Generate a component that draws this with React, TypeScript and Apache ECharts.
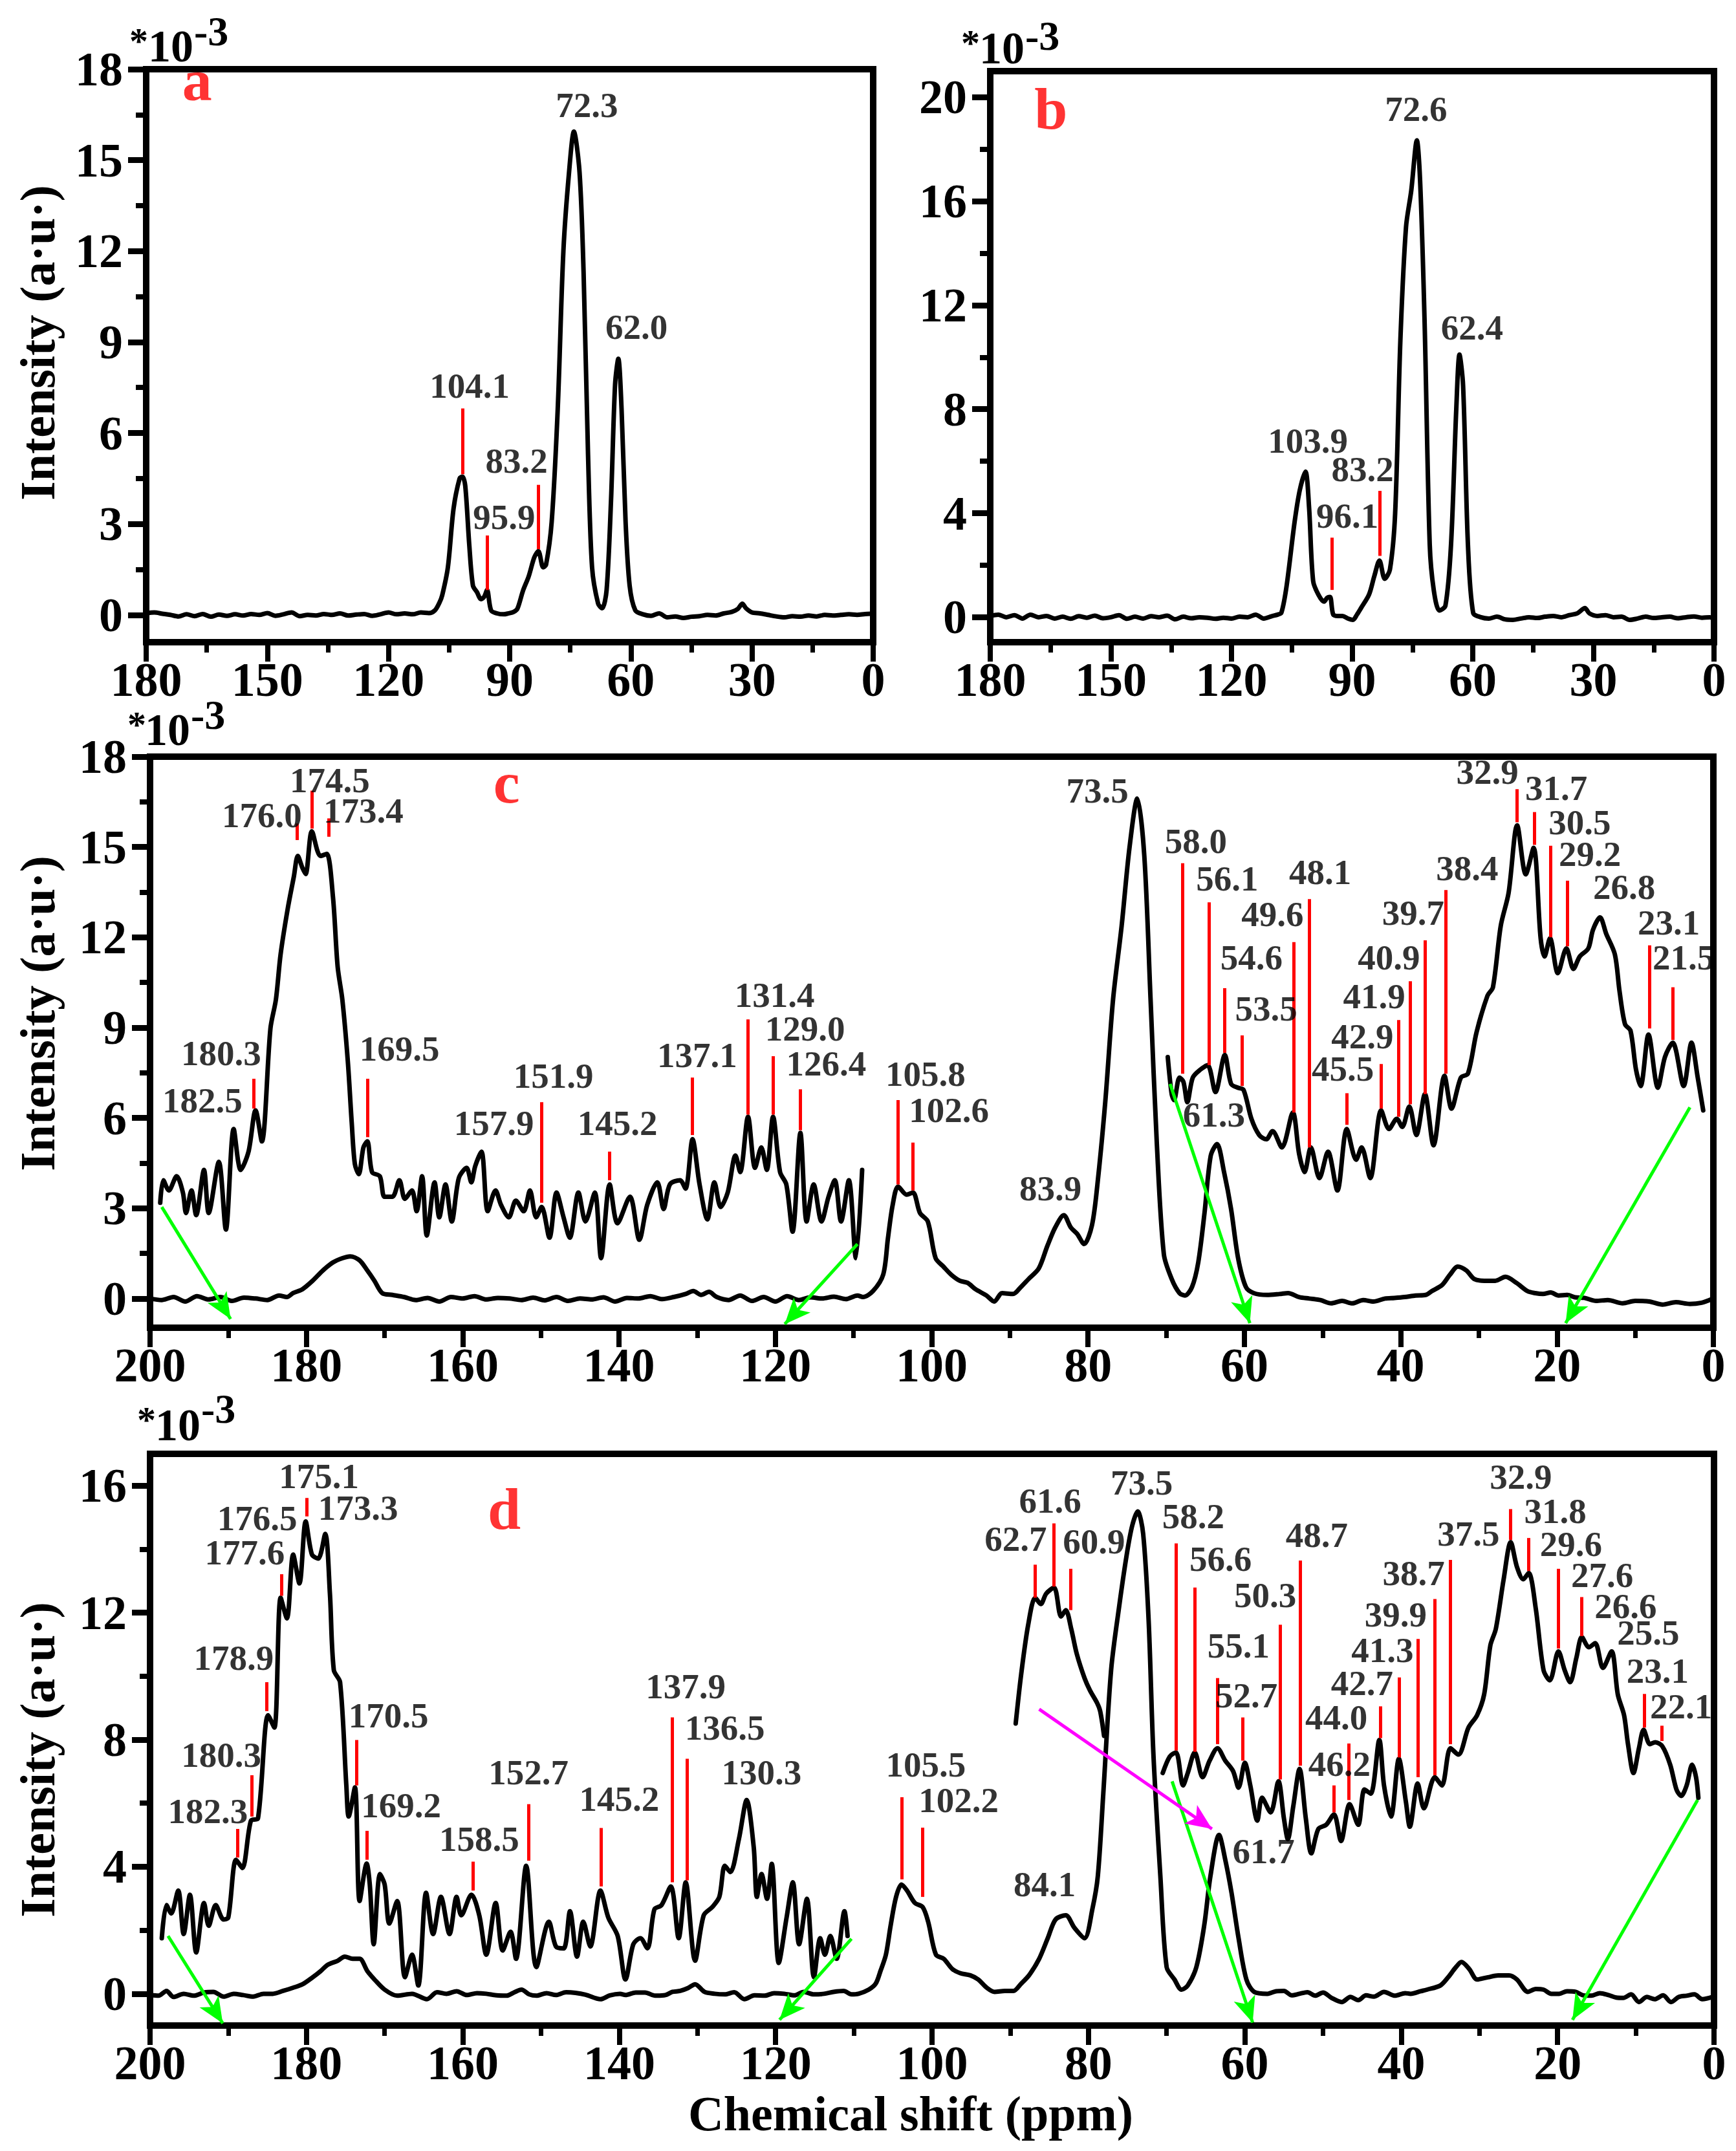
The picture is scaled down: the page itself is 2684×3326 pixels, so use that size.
import React, { useEffect, useRef } from "react";
import * as echarts from "echarts";

type P = [number, number];
type Red = [number, number, number];
type Lab = [string, number, number];
type Arr = [number, number, number, number];

// ---------------- Panel a ----------------
const specA: P[] = [[180,0.05],[178,0.08],[176,0.04],[174,0.0],[172,-0.05],[170,0.02],[168,-0.04],[166,0.03],[164,-0.06],[162,0.01],[160,-0.03],[158,0.02],[156,-0.02],[154,0.03],[152,0.0],[150,0.06],[148,-0.03],[146,0.02],[144,0.08],[142,-0.04],[140,0.0],[138,-0.02],[136,0.03],[134,0.0],[132,0.05],[130,-0.02],[128,0.01],[126,0.03],[124,-0.03],[122,0.02],[120,0.08],[118,0.02],[116,0.05],[114,0.02],[112,0.08],[110,0.06],[108.5,0.15],[107.4,0.4],[106.7,0.65],[105.3,1.57],[103.9,3.5],[102.4,4.5],[101.7,4.56],[101,4.26],[100,2.3],[99.1,0.97],[98.1,0.75],[97.1,0.52],[96.3,0.6],[95.6,0.82],[94.6,0.15],[93.1,0.05],[91.5,0.02],[90.3,0.05],[89,0.1],[88.1,0.2],[86.7,0.8],[85.3,1.27],[83.9,1.9],[82.9,2.1],[81.7,1.57],[81,1.65],[79.6,3.07],[78.1,6.8],[76.7,12.0],[75.3,14.6],[74.1,15.94],[72.7,14.6],[71.7,11.3],[70.6,5.3],[69.6,1.57],[68.1,0.37],[67.1,0.22],[66,0.82],[64.9,3.8],[63.9,7.6],[63.1,8.45],[62.3,6.8],[61.3,3.07],[60.3,0.97],[58.9,0.15],[57,0.02],[55,-0.03],[53,0.05],[51,-0.08],[49,-0.05],[47,-0.1],[45,-0.06],[43,-0.04],[41,0.0],[39,-0.02],[37,0.05],[35,0.1],[33.5,0.2],[32.4,0.37],[31.5,0.22],[30,0.08],[28,0.05],[26,0.0],[24,-0.05],[22,-0.08],[20,-0.04],[18,-0.06],[16,-0.02],[14,-0.05],[12,0.0],[10,-0.02],[8,0.0],[6,0.02],[4,0.0],[2,0.03],[0.5,0.04]];
const redA: Red[] = [[101.7,6.81,4.64],[95.6,2.62,0.82],[82.9,4.29,2.17]];
const labelsA: Lab[] = [["104.1",99.9,7.56],["95.9",91.4,3.22],["83.2",88.3,5.09],["72.3",70.9,16.82],["62.0",58.6,9.49]];
const letterA: Lab = ["a",167.4,17.64];
const yTicksA = [0,3,6,9,12,15,18];
const yMinorA = [1.5,4.5,7.5,10.5,13.5,16.5];

// ---------------- Panel b ----------------
const specB: P[] = [[180,0.05],[178,0.1],[176,0.0],[174,0.08],[172,-0.05],[170,0.1],[168,0.0],[166,0.05],[164,-0.05],[162,0.02],[160,-0.06],[158,0.04],[156,-0.02],[154,0.06],[152,-0.04],[150,0.0],[148,0.08],[146,-0.06],[144,0.02],[142,-0.05],[140,0.04],[138,0.0],[136,0.06],[134,-0.08],[132,0.02],[130,-0.04],[128,0.0],[126,-0.02],[124,-0.06],[122,-0.02],[120,-0.05],[118,0.02],[116,0.0],[114,0.1],[112,-0.05],[110,0.04],[108.5,0.1],[107.6,0.17],[106.3,1.2],[104.3,3.67],[103,4.9],[101.6,5.6],[100.7,4.2],[99.7,1.4],[98.4,0.87],[97,0.6],[96.2,0.75],[95.5,0.78],[94.7,0.1],[93.5,0.05],[92.4,0.05],[91,-0.05],[89.8,-0.1],[88.8,0.1],[87.8,0.35],[85.8,0.87],[84.5,1.57],[83.2,2.18],[81.9,1.48],[80.6,1.83],[79.3,4.0],[78,10.65],[76.6,15.0],[75.3,16.4],[73.9,18.34],[73.1,16.8],[72,11.5],[70.7,2.8],[69.7,1.05],[68.3,0.26],[66.8,0.44],[65.4,2.8],[64.1,8.0],[63.3,10.1],[62.4,8.9],[61.2,2.8],[59.9,0.17],[58,0.0],[56,-0.05],[54,0.02],[52,-0.08],[50,-0.1],[48,-0.05],[46,0.0],[44,-0.03],[42,0.02],[40,0.05],[38,0.0],[36,0.08],[34,0.15],[32.1,0.35],[31,0.15],[29,0.05],[27,0.08],[25,0.0],[23,0.02],[21,-0.1],[19,-0.05],[17,0.02],[15,-0.03],[13,0.0],[11,0.02],[9,-0.04],[7,0.0],[5,0.03],[3,-0.02],[1,0.0],[0.3,-0.05]];
const redB: Red[] = [[95.1,3.06,1.05],[83.2,4.86,2.36]];
const labelsB: Lab[] = [["103.9",101.0,6.79],["96.1",91.2,3.9],["83.2",87.4,5.69],["72.6",74.1,19.55],["62.4",60.2,11.13]];
const letterB: Lab = ["b",164.9,19.55];
const yTicksB = [0,4,8,12,16,20];
const yMinorB = [2,6,10,14,18];

// ---------------- Panel c ----------------
const specC: P[] = [[200,0.0],[198.5,-0.05],[197,0.05],[195.5,-0.1],[194,0.08],[192.5,-0.03],[191,0.05],[189.5,-0.08],[188,0.03],[186.5,0.0],[185,-0.05],[183.5,0.1],[182.5,0.05],[181.7,0.18],[180.5,0.31],[179.2,0.59],[177.9,0.93],[176.6,1.2],[175.4,1.34],[174.4,1.4],[173.2,1.27],[172.2,0.93],[171.3,0.59],[170.3,0.18],[169,0.12],[167.5,0.05],[166,-0.05],[164.5,0.02],[163,-0.1],[161.5,0.05],[160,0.0],[158.5,0.08],[157,-0.03],[155.5,0.02],[154,0.0],[152.5,-0.05],[151,0.03],[149.5,-0.06],[148,0.05],[146.5,-0.08],[145,0.0],[143.5,-0.03],[142,0.04],[140.5,-0.1],[139,0.02],[137.5,0.0],[136,0.08],[134.5,-0.02],[133,0.05],[131.5,0.15],[130.5,0.25],[129.5,0.12],[128.5,0.22],[127.5,0.05],[126,-0.05],[124.5,0.1],[123,-0.08],[121.5,0.05],[120,-0.1],[118.5,0.08],[117,-0.05],[115.5,0.04],[114,0.0],[112.5,0.06],[111,-0.02],[109.5,0.1],[108.8,0.05],[107.5,0.25],[106.2,0.8],[105.6,2.0],[105,3.1],[104.3,3.72],[103.2,3.45],[102.4,3.52],[101.5,2.84],[100.5,2.56],[99.5,1.34],[98.5,1.06],[97.5,0.79],[96.4,0.59],[95.4,0.52],[94.4,0.31],[93,0.1],[92,-0.1],[91,0.18],[89.6,0.15],[88.6,0.38],[87.6,0.65],[86.3,1.0],[85.2,1.75],[84.2,2.36],[83.1,2.77],[82.2,2.36],[81.4,2.15],[80.5,1.81],[79.5,2.43],[78.8,3.79],[77.8,6.52],[76.8,9.93],[75.7,12.38],[74.7,14.97],[73.7,16.61],[72.8,14.7],[72,9.93],[71.2,5.15],[70.3,1.47],[69.3,0.65],[68.3,0.18],[67.6,0.1],[66.7,0.38],[65.9,1.2],[65.1,2.84],[64.3,4.75],[63.5,5.13],[62.6,4.2],[61.7,2.97],[60.8,1.34],[59.8,0.38],[58.8,0.18],[57.1,0.12],[55.5,0.15],[54.4,0.18],[53,0.05],[51.7,0.0],[50.3,-0.05],[48.9,-0.16],[47.5,-0.08],[46.2,-0.16],[44.8,-0.05],[43.5,-0.1],[42,0.0],[40.8,0.02],[39.5,0.05],[38.1,0.1],[36.8,0.12],[36,0.25],[34.7,0.45],[33.7,0.79],[32.7,1.06],[31.6,0.93],[30.6,0.65],[29.3,0.59],[27.9,0.59],[26.6,0.72],[25.2,0.52],[23.8,0.25],[22.8,0.18],[21.8,0.15],[20.8,0.2],[19.8,0.1],[18.7,0.12],[17.7,0.04],[16.5,0.02],[15,-0.08],[13.5,-0.05],[11.6,-0.16],[10,-0.08],[8.2,-0.1],[6.5,-0.2],[4.8,-0.12],[3,-0.18],[1.5,-0.14],[0.2,-0.02]];
const expC1: P[] = [[198.7,3.18],[198.3,3.93],[197.6,3.59],[196.6,4.06],[195.8,3.52],[195.4,2.84],[194.7,3.59],[194.1,2.77],[193.1,4.27],[192.5,2.84],[191.2,4.54],[190.3,2.29],[189.3,5.63],[188.4,4.27],[187.4,4.88],[186.5,6.25],[185.7,5.22],[184.6,8.97],[183.9,9.93],[183.3,11.43],[182.4,12.93],[181.6,14.02],[181.1,14.7],[180.5,14.3],[180.1,14.1],[179.3,15.52],[178.2,14.7],[177.4,14.77],[176.6,13.34],[176,11.02],[175.4,9.93],[174.7,7.88],[174.2,5.84],[173.8,4.47],[173.3,4.13],[172.7,5.02],[172.2,5.22],[171.6,4.2],[170.6,4.06],[170,3.38],[169,3.38],[168.1,3.93],[167.4,3.31],[166.5,3.59],[165.9,2.9],[165.2,4.06],[164.6,2.09],[163.6,3.86],[163,2.7],[162.2,3.79],[161.4,2.56],[160.5,4.0],[159.5,4.34],[158.9,3.86],[158.4,4.4],[157.6,4.88],[156.8,2.9],[155.8,3.59],[155.1,3.11],[154.1,2.7],[153.2,3.25],[152.2,2.9],[151.4,3.59],[150.6,2.7],[149.9,3.04],[148.9,2.02],[148,3.52],[147.1,2.7],[146.3,2.02],[145.2,3.52],[144.3,2.56],[143.1,3.52],[142.3,1.34],[141.2,3.79],[140.2,2.5],[138.6,3.38],[137.4,1.95],[136.4,3.11],[135.1,3.86],[134.3,2.97],[133.5,3.79],[132.2,3.93],[131.5,3.65],[130.6,5.29],[129.7,3.79],[128.7,2.63],[127.8,3.86],[127,3.04],[126.1,3.52],[125.1,4.75],[124.5,4.2],[123.5,6.04],[122.6,4.34],[121.8,5.02],[121.1,4.27],[120.3,6.04],[119.4,4.2],[118.6,3.79],[117.8,2.22],[116.8,5.5],[116,2.56],[115.1,3.79],[114.1,2.56],[113.2,3.38],[112.4,3.93],[111.6,2.56],[110.6,3.93],[109.7,1.34],[108.9,4.27]];
const expC2: P[] = [[69.8,8.02],[69.3,6.79],[69,6.59],[68.3,7.34],[67.8,7.2],[67.3,6.52],[66.6,7.34],[65.6,7.61],[64.7,7.75],[63.7,6.86],[62.5,8.09],[61.7,7.13],[60.8,7.0],[60.1,6.93],[59.1,5.97],[58.1,5.43],[57.2,5.29],[56.4,5.56],[55.2,5.02],[53.8,6.18],[53,4.81],[52.3,4.2],[51.5,5.02],[50.4,4.0],[49.3,4.88],[48.1,3.59],[46.9,5.63],[45.7,4.61],[45,5.02],[43.9,4.0],[42.5,6.25],[41.5,5.63],[40.5,5.97],[39.8,5.7],[38.9,6.38],[38,5.43],[36.9,6.79],[35.8,5.09],[34.4,7.4],[33.5,6.31],[32.3,7.34],[31.4,7.47],[30.3,8.84],[28.9,10.06],[28.2,10.34],[27.2,12.38],[26.2,13.47],[25.1,15.72],[24,14.09],[23,14.97],[22.1,11.97],[21.6,11.36],[20.9,11.97],[19.9,10.81],[18.8,11.63],[17.9,10.95],[17.1,11.36],[16,11.63],[15.4,12.25],[14.5,12.66],[13.7,12.11],[12.6,11.43],[12,10.2],[11.3,9.11],[10.6,8.9],[9.9,7.61],[9.3,7.06],[8.3,8.77],[7.1,7.0],[6.2,8.02],[5.2,8.5],[3.8,7.06],[2.8,8.5],[2,7.34],[1.3,6.25]];
const redC: Red[] = [[186.7,7.3,6.31],[181.2,15.78,15.23],[179.3,16.87,15.61],[177.1,15.95,15.34],[172.2,7.3,5.36],[149.9,6.52,3.18],[141.2,4.88,3.93],[130.6,7.34,5.43],[123.5,9.27,6.11],[120.3,8.05,6.11],[116.8,6.95,5.59],[104.3,6.59,3.79],[102.4,5.18,3.59],[67.9,14.46,7.47],[64.5,13.16,7.75],[62.5,10.31,8.16],[60.3,8.74,7.06],[53.7,11.84,6.18],[51.7,13.27,5.02],[46.9,6.82,5.77],[42.5,7.79,6.31],[40.3,9.25,6.04],[38.8,10.54,6.45],[36.9,11.9,6.79],[34.2,13.57,7.47],[25.1,16.92,15.82],[22.9,16.16,15.07],[20.8,15.04,12.0],[18.7,13.88,11.7],[8.2,11.73,8.97],[5.2,10.34,8.59]];
const labelsC: Lab[] = [["182.5",193.3,6.59],["180.3",190.9,8.15],["176.0",185.7,16.06],["174.5",177.0,17.22],["173.4",172.7,16.2],["169.5",168.1,8.29],["157.9",156.0,5.84],["151.9",148.4,7.4],["145.2",140.2,5.84],["137.1",130.0,8.09],["131.4",120.1,10.09],["129.0",116.2,8.97],["126.4",113.5,7.81],["105.8",100.8,7.47],["102.6",97.8,6.25],["83.9",84.8,3.65],["73.5",78.8,16.88],["61.3",63.9,6.11],["58.0",66.2,15.2],["56.1",62.2,13.95],["54.6",59.1,11.32],["53.5",57.2,9.63],["49.6",56.4,12.76],["48.1",50.3,14.16],["45.5",47.4,7.64],["42.9",44.9,8.7],["41.9",43.4,10.04],["40.9",41.5,11.32],["39.7",38.4,12.82],["38.4",31.5,14.29],["32.9",28.9,17.5],["31.7",20.1,16.95],["30.5",17.1,15.82],["29.2",15.8,14.77],["26.8",11.4,13.68],["23.1",5.7,12.49],["21.5",3.8,11.32]];
const letterC: Lab = ["c",154.4,17.15];
const greenC: Arr[] = [[198.5,3.04,189.7,-0.68],[109.5,1.81,118.8,-0.85],[69.5,7.13,59.3,-0.82],[3.0,6.35,18.9,-0.82]];
const yTicksC = [0,3,6,9,12,15,18];
const yMinorC = [1.5,4.5,7.5,10.5,13.5,16.5];

// ---------------- Panel d ----------------
const specD: P[] = [[200,-0.04],[198.9,-0.06],[197.9,0.09],[197,-0.1],[195.7,0.0],[194.4,-0.06],[193.1,0.04],[191.9,0.06],[190.6,-0.09],[189.3,0.0],[188.1,-0.04],[186.8,-0.09],[185.5,0.0],[184.3,0.0],[183,0.09],[181.7,0.19],[180.5,0.3],[179.2,0.52],[178.2,0.71],[177.3,0.91],[176,1.04],[175.1,1.17],[174.1,1.1],[173.2,1.1],[172.2,0.71],[171.3,0.45],[170,0.13],[168.4,-0.06],[166.5,0.0],[164.6,-0.17],[163.3,0.05],[162.1,0.0],[160.8,0.08],[159.5,-0.04],[158.2,0.02],[157,0.0],[155.7,-0.05],[154.4,-0.06],[153.4,0.05],[152.5,0.13],[151.5,-0.02],[150.6,-0.06],[149.3,0.02],[148.1,-0.04],[146.8,0.05],[145.6,0.03],[144.3,-0.03],[142.4,-0.17],[141.2,-0.05],[139.9,0.0],[139.2,-0.04],[137.9,0.04],[136.7,0.04],[135.4,-0.06],[134.1,-0.04],[133.2,0.06],[132.2,0.09],[131.2,0.18],[130.3,0.3],[129.1,0.06],[127.8,0.0],[126.5,-0.02],[125.3,0.05],[124,-0.17],[122.7,-0.05],[121.4,-0.06],[120.2,0.02],[118.9,0.0],[117.6,-0.05],[116.4,0.06],[115.1,-0.02],[113.8,0.0],[112.6,0.06],[111.3,0.09],[110.3,-0.02],[109.4,0.0],[108.1,0.13],[107.2,0.32],[106.6,0.71],[105.9,1.23],[105.3,2.14],[104.6,3.05],[103.9,3.44],[103.2,3.25],[102.2,2.86],[101.2,2.73],[100.5,2.27],[99.5,1.23],[98.5,1.1],[97.4,0.78],[96.4,0.65],[95.1,0.58],[94.1,0.45],[93,0.19],[92,0.06],[90.7,0.09],[89.6,0.09],[88.6,0.32],[87.6,0.58],[86.3,1.1],[85.2,1.75],[84.2,2.34],[82.9,2.47],[81.8,2.08],[80.5,1.75],[79.5,2.66],[78.8,3.7],[78.1,6.3],[77.1,10.19],[76.1,12.14],[75.1,13.83],[74.4,14.74],[73.7,15.19],[73,14.48],[72.3,11.75],[71.7,7.6],[70.8,3.7],[70,0.84],[69,0.45],[68.1,0.13],[67.3,0.26],[66.2,0.84],[65.2,2.14],[64.4,3.7],[63.3,5.0],[62.5,4.22],[61.7,3.18],[60.8,1.75],[59.8,0.45],[58.8,0.06],[57.1,0.0],[56,0.08],[55,0.09],[54,-0.05],[53,0.0],[52,0.05],[51,-0.06],[50,0.04],[48.9,-0.13],[47.6,-0.26],[46.5,-0.1],[45.5,-0.2],[44.5,-0.05],[43.5,-0.09],[42.2,0.06],[40.8,-0.06],[39.5,0.02],[38.8,0.0],[37.5,0.08],[36.7,0.13],[35,0.26],[34,0.52],[33,0.84],[32.3,1.0],[31.3,0.78],[30.3,0.45],[28.9,0.52],[27.6,0.58],[26.2,0.58],[25.2,0.45],[23.8,0.06],[22.8,0.15],[21.8,0.13],[20.8,0.0],[19.8,0.0],[18.8,0.08],[17.7,0.06],[16.7,-0.05],[15.7,-0.06],[14.6,0.02],[13.5,-0.04],[12.5,-0.12],[11.6,-0.13],[10.6,-0.02],[9.6,-0.26],[8.6,-0.1],[7.6,-0.17],[6.5,-0.05],[5.5,-0.26],[4.5,-0.1],[3.5,-0.06],[2.5,-0.02],[1.5,-0.17],[0.1,-0.09]];
const expD1: P[] = [[198.5,1.75],[197.9,2.79],[197.3,2.53],[196.4,3.25],[195.7,1.88],[194.9,3.12],[194.1,1.3],[193.1,2.86],[192.5,2.14],[191.6,2.79],[190.6,2.34],[190,2.4],[189,4.22],[188.2,3.96],[187.1,5.45],[186.2,5.52],[184.9,8.77],[184.1,8.38],[183.3,12.47],[182.5,11.82],[181.7,13.83],[180.9,12.92],[180.1,14.87],[179.3,13.83],[178.5,13.7],[177.6,14.48],[177.0,12.6],[176.5,10.19],[175.7,9.81],[174.9,6.56],[174.6,5.58],[173.8,6.5],[173.2,2.92],[172.3,4.1],[171.9,3.44],[171.4,1.56],[170.6,3.77],[170,3.44],[169.4,2.21],[168.4,2.92],[167.4,0.52],[166.5,1.23],[165.7,0.26],[164.7,3.18],[163.8,1.88],[162.8,3.05],[161.7,1.88],[160.8,3.05],[160.2,2.47],[158.9,3.12],[157.9,2.47],[157,1.23],[155.8,2.86],[154.9,1.36],[153.9,1.95],[153.2,1.1],[151.9,4.03],[150.6,0.84],[149,2.27],[148.1,1.49],[147.1,1.43],[146.3,2.6],[145.4,1.17],[144.6,2.27],[143.7,1.49],[142.4,3.25],[141.4,2.4],[140.2,1.82],[139.2,0.45],[138.2,1.56],[137.3,1.75],[136.4,1.43],[135.5,2.66],[134.6,2.79],[133.4,3.38],[132.4,1.75],[131.5,3.51],[130.3,1.04],[129.2,2.47],[128.1,2.73],[127.2,3.05],[126.5,4.03],[125.8,3.83],[124.7,4.87],[123.7,6.1],[122.8,4.61],[122.4,3.05],[121.8,3.77],[121.1,2.99],[120.5,4.09],[119.6,0.97],[118.6,2.4],[117.8,3.51],[117,1.56],[116,2.99],[115.1,0.52],[114.3,1.75],[113.7,1.23],[113,1.82],[112.2,1.1],[111.2,2.6],[110.8,1.82]];
const expD2: P[] = [[89.3,8.51],[88.6,10.06],[87.7,11.62],[86.8,12.47],[86.1,12.27],[85.4,12.6],[84.4,12.79],[83.5,11.88],[82.9,12.08],[82.2,11.49],[81.5,10.71],[80.5,9.94],[79.8,9.55],[78.9,9.16],[78.5,8.9],[78,8.12]];
const expD3: P[] = [[70.5,6.95],[69.6,7.47],[68.8,7.6],[67.9,6.56],[67.3,6.95],[66.4,7.6],[65.4,6.82],[64.5,7.34],[63.5,7.73],[62.5,7.34],[61.5,7.01],[60.8,6.49],[60,7.27],[59.3,6.56],[58.4,5.45],[57.8,6.17],[56.7,5.71],[55.7,6.69],[55,5.52],[54.5,4.87],[53.8,5.91],[53,7.08],[52.2,5.52],[51.5,4.42],[50.6,5.19],[49.6,5.32],[48.6,5.65],[47.7,4.81],[46.6,5.97],[45.5,5.32],[44.7,6.43],[43.9,6.3],[42.8,7.99],[42.2,6.56],[41.3,5.58],[40.3,7.4],[39.4,6.04],[38.9,5.26],[37.9,6.62],[37.1,5.84],[35.7,6.82],[34.8,6.56],[33.7,7.73],[32.7,7.53],[31.4,8.38],[30.3,8.77],[29.4,9.42],[28.6,10.97],[27.9,11.49],[26.9,13.05],[26,14.22],[25.2,13.44],[24.4,13.05],[23.7,13.25],[22.8,12.14],[21.8,10.19],[21,9.87],[19.9,10.78],[19.1,10.19],[18.4,9.81],[17.6,10.58],[16.9,11.23],[16,10.91],[15.2,11.04],[14.2,10.26],[13.1,10.78],[12.3,9.42],[11.5,8.77],[11,7.86],[10.3,6.95],[9.6,7.73],[9,8.31],[8.2,7.86],[7.5,7.92],[6.6,7.79],[5.6,7.21],[4.8,6.43],[4.2,6.23],[3.5,6.56],[2.8,7.21],[2.3,6.82],[2,6.17]];
const redD: Red[] = [[188.8,5.19,4.29],[187.0,6.88,5.58],[185.1,9.81,8.9],[183.2,13.21,12.53],[180.0,15.61,15.03],[173.6,7.99,6.56],[172.3,5.13,4.22],[158.7,4.16,3.25],[151.6,5.97,4.19],[142.3,5.22,3.38],[133.2,8.7,3.51],[131.3,7.4,3.57],[103.9,6.19,3.6],[101.2,5.23,3.05],[86.8,13.51,12.47],[84.4,14.81,12.82],[82.3,13.38,12.08],[68.8,14.18,7.66],[66.4,12.79,7.62],[63.5,9.94,7.86],[60.3,8.7,7.34],[55.5,11.62,6.75],[52.9,13.64,7.18],[48.6,6.56,5.71],[46.7,7.88,6.1],[42.7,9.05,8.05],[40.3,9.96,7.44],[37.9,11.17,6.82],[35.7,12.43,6.88],[33.7,13.66,7.86],[26.0,15.26,14.29],[23.7,14.35,13.31],[19.9,13.38,10.87],[16.9,12.49,11.26],[8.9,9.44,8.38],[6.7,8.44,7.96]];
const labelsD: Lab[] = [["182.3",192.6,5.75],["180.3",190.9,7.53],["178.9",189.3,10.58],["177.6",187.9,13.9],["176.5",186.3,14.97],["175.1",178.4,16.3],["173.3",173.4,15.29],["170.5",169.5,8.77],["169.2",167.9,5.94],["158.5",157.9,4.87],["152.7",151.6,6.97],["145.2",140.0,6.14],["137.9",131.5,9.68],["136.5",126.5,8.38],["130.3",121.8,6.97],["105.5",100.8,7.21],["102.2",96.6,6.1],["84.1",85.6,3.44],["73.5",73.2,16.1],["62.7",89.3,14.32],["61.6",84.9,15.52],["60.9",79.3,14.25],["58.2",66.6,15.03],["56.6",63.1,13.7],["55.1",60.8,10.97],["52.7",59.8,9.39],["50.3",57.4,12.56],["48.7",50.8,14.45],["44.0",48.3,8.7],["46.2",47.9,7.23],["42.7",45.0,9.78],["41.3",42.4,10.82],["39.9",40.7,11.95],["38.7",38.4,13.25],["37.5",31.4,14.48],["32.9",24.7,16.27],["31.8",20.3,15.19],["29.6",18.3,14.16],["27.6",14.3,13.18],["26.6",11.3,12.21],["25.5",8.4,11.36],["23.1",7.2,10.17],["22.1",4.2,9.05],["61.7",57.6,4.48]];
const letterD: Lab = ["d",154.7,15.26];
const greenD: Arr[] = [[197.7,1.82,190.7,-0.93],[110.3,1.73,119.5,-0.82],[69.3,6.69,59.0,-0.91],[2.1,6.1,18.1,-0.82]];
const pinkD: Arr[] = [[86.3,8.96,64.2,5.19]];
const yTicksD = [0,4,8,12,16];
const yMinorD = [2,6,10,14];

const xTitle = "Chemical shift (ppm)";
const yTitle = "Intensity (a·u·)";
const scaleStar = "*";
const scaleTen = "10";
const scaleExp = "-3";

const FONT = "Liberation Serif";

function App() {
  const ref = useRef<HTMLDivElement>(null);

  useEffect(() => {
    if (!ref.current) return;
    const chart = echarts.init(ref.current, undefined, { renderer: "svg" });

    const grids = [
      { left: 226, top: 107, width: 1124, height: 886 },
      { left: 1531, top: 110, width: 1119, height: 883 },
      { left: 232, top: 1170, width: 2417, height: 883 },
      { left: 232, top: 2248, width: 2418, height: 884 },
    ];
    const xMax = [180, 180, 200, 200];
    const xInt = [30, 30, 20, 20];
    const yMin = [-0.9, -0.96, -0.97, -1];
    const yMax = [18, 21, 18, 17];
    const yTicks = [yTicksA, yTicksB, yTicksC, yTicksD];
    const yMinor = [yMinorA, yMinorB, yMinorC, yMinorD];

    const grid = grids.map((g) => ({
      ...g,
      show: true,
      borderColor: "#000",
      borderWidth: 10,
      backgroundColor: "transparent",
    }));

    const xAxis = grids.map((_, i) => ({
      type: "value",
      gridIndex: i,
      position: "bottom",
      inverse: true,
      min: 0,
      max: xMax[i],
      interval: xInt[i],
      axisLine: { show: true, onZero: false, lineStyle: { color: "#000", width: 10 } },
      axisTick: { show: true, inside: false, length: 30, lineStyle: { color: "#000", width: 8 } },
      minorTick: { show: true, splitNumber: 2, length: 16, lineStyle: { color: "#000", width: 7 } },
      axisLabel: { show: true, margin: 26, color: "#000", fontSize: 74, lineHeight: 64, fontWeight: "bold", fontFamily: FONT },
      splitLine: { show: false },
      minorSplitLine: { show: false },
    }));

    const yAxis: any[] = [];
    grids.forEach((_, i) => {
      yAxis.push({
        type: "value",
        gridIndex: i,
        position: "left",
        min: yMin[i],
        max: yMax[i],
        axisLine: { show: true, onZero: false, lineStyle: { color: "#000", width: 10 } },
        axisTick: { show: true, inside: false, length: 28, customValues: yTicks[i], lineStyle: { color: "#000", width: 9 } },
        axisLabel: { show: true, margin: 36, customValues: yTicks[i], color: "#000", fontSize: 74, fontWeight: "bold", fontFamily: FONT },
        splitLine: { show: false },
      });
      yAxis.push({
        type: "value",
        gridIndex: i,
        position: "left",
        min: yMin[i],
        max: yMax[i],
        axisLine: { show: false, onZero: false },
        axisTick: { show: true, inside: false, length: 16, customValues: yMinor[i], lineStyle: { color: "#000", width: 8 } },
        axisLabel: { show: false },
        splitLine: { show: false },
      });
    });

    const lineSeries = (i: number, data: P[], extra: any = {}) => ({
      type: "line",
      xAxisIndex: i,
      yAxisIndex: i * 2,
      data,
      showSymbol: false,
      symbol: "none",
      smooth: 0.3,
      silent: true,
      clip: false,
      lineStyle: { color: "#000", width: 7, join: "round", cap: "round" },
      z: 3,
      ...extra,
    });

    const redMark = (reds: Red[]) => ({
      silent: true,
      symbol: ["none", "none"],
      label: { show: false },
      emphasis: { disabled: true },
      lineStyle: { color: "#ff0000", width: 5, type: "solid" },
      data: reds.map(([x, t, b]) => [{ coord: [x, t] }, { coord: [x, b] }]),
      animation: false,
    });

    const arrowMark = (arrs: { a: Arr; color: string }[]) => ({
      silent: true,
      symbol: ["none", "arrow"],
      symbolSize: 30,
      label: { show: false },
      emphasis: { disabled: true },
      animation: false,
      data: arrs.map(({ a, color }) => [
        { coord: [a[0], a[1]], symbol: "none", lineStyle: { color, width: 5, type: "solid" } },
        { coord: [a[2], a[3]], symbol: "arrow", symbolSize: [26, 40] },
      ]),
    });

    const labelSeries = (i: number, labs: Lab[], color: string, size: number) => ({
      type: "scatter",
      xAxisIndex: i,
      yAxisIndex: i * 2,
      symbolSize: 1,
      itemStyle: { color: "rgba(0,0,0,0)" },
      silent: true,
      clip: false,
      z: 6,
      data: labs.map(([t, x, y]) => ({ name: t, value: [x, y] })),
      label: {
        show: true,
        position: "inside",
        formatter: "{b}",
        color,
        fontSize: size,
        lineHeight: Math.round(size * 0.76),
        fontWeight: "bold",
        fontFamily: FONT,
      },
    });

    const series: any[] = [
      lineSeries(0, specA, { markLine: redMark(redA) }),
      lineSeries(1, specB, { markLine: redMark(redB) }),
      lineSeries(2, specC, { markLine: redMark(redC) }),
      lineSeries(2, expC1, { markLine: arrowMark(greenC.map((a) => ({ a, color: "#00ff00" }))) }),
      lineSeries(2, expC2),
      lineSeries(3, specD, { markLine: redMark(redD) }),
      lineSeries(3, expD1, {
        markLine: arrowMark([
          ...greenD.map((a) => ({ a, color: "#00ff00" })),
          ...pinkD.map((a) => ({ a, color: "#ff00ff" })),
        ]),
      }),
      lineSeries(3, expD2),
      lineSeries(3, expD3),
      labelSeries(0, labelsA, "#000", 55),
      labelSeries(1, labelsB, "#000", 55),
      labelSeries(2, labelsC, "#000", 55),
      labelSeries(3, labelsD, "#000", 55),
      labelSeries(0, [letterA], "#ff0000", 92),
      labelSeries(1, [letterB], "#ff0000", 92),
      labelSeries(2, [letterC], "#ff0000", 92),
      labelSeries(3, [letterD], "#ff0000", 92),
    ];

    const txt = (text: string, x: number, y: number, size: number, align = "left", rotation = 0, lh?: number) => ({
      type: "text",
      x,
      y,
      rotation,
      silent: true,
      style: {
        text,
        fill: "#000",
        fontSize: size,
        fontWeight: "bold",
        fontFamily: FONT,
        lineHeight: lh ?? size,
        align,
        verticalAlign: "middle",
      },
    });

    // pixel anchors of the "*10^-3" scale markers: [starX, tenX, expX, tenBaselineY, expBaselineY]
    const scaleAnchors = [
      [200, 229, 300, 95, 70],
      [1486, 1514, 1585, 98, 77],
      [197, 224, 295, 1152, 1127],
      [212, 240, 311, 2227, 2200],
    ];
    const scaleGraphics: any[] = [];
    scaleAnchors.forEach(([sx, tx, ex, tb, eb]) => {
      scaleGraphics.push(txt(scaleStar, sx, tb - 32, 58, "left", 0, 34));
      scaleGraphics.push(txt(scaleTen, tx, tb - 24, 70, "left", 0, 54));
      scaleGraphics.push(txt(scaleExp, ex, eb - 22, 64, "left", 0, 48));
    });

    const graphic = [
      ...scaleGraphics,
      txt(yTitle, 58, 530, 76, "center", Math.PI / 2),
      txt(yTitle, 58, 1567, 76, "center", Math.PI / 2),
      txt(yTitle, 58, 2721, 76, "center", Math.PI / 2),
      txt(xTitle, 1408, 3268, 76, "center", 0, 56),
    ];

    chart.setOption({
      animation: false,
      backgroundColor: "#ffffff",
      grid,
      xAxis,
      yAxis,
      series,
      graphic,
    });

    return () => {
      chart.dispose();
    };
  }, []);

  return (
    <div
      ref={ref}
      style={{ position: "absolute", left: 0, top: 0, width: 2684, height: 3326, background: "#fff" }}
    />
  );
}

export default App;
